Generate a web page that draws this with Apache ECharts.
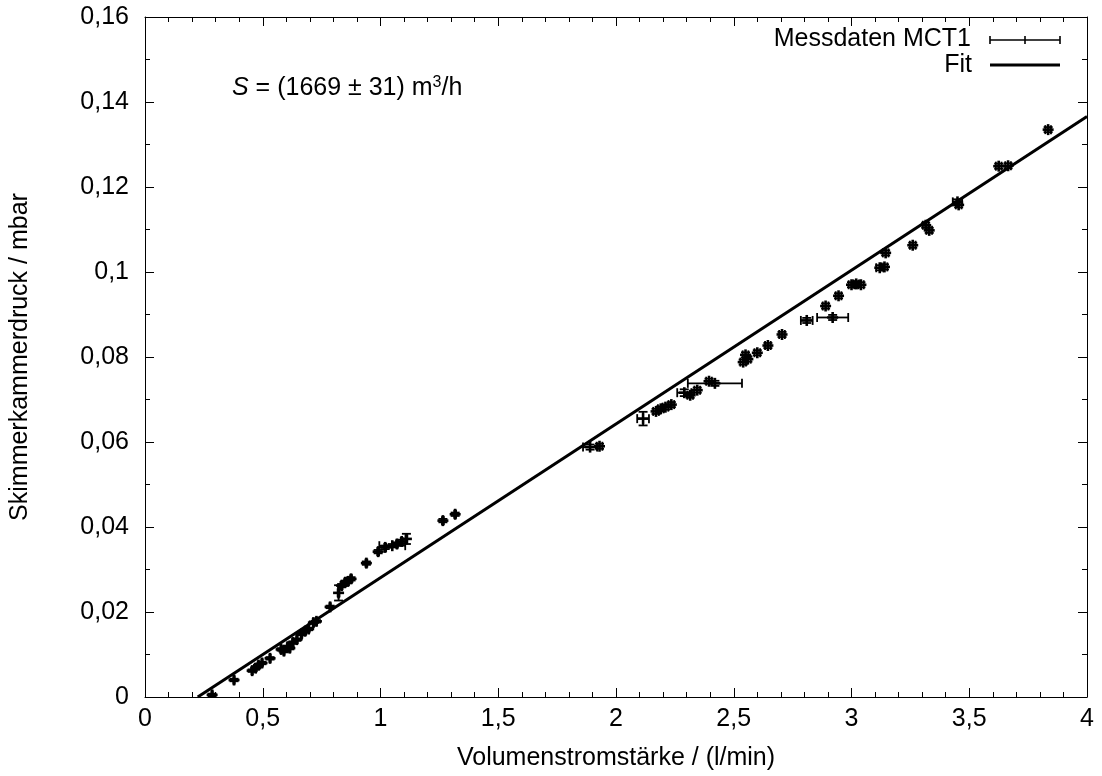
<!DOCTYPE html>
<html>
<head>
<meta charset="utf-8">
<script src="https://cdn.jsdelivr.net/npm/echarts@6/dist/echarts.min.js"></script>
<style>
html,body{margin:0;padding:0;background:#fff;}
#chart{width:1102px;height:776px;}
</style>
</head>
<body>
<div id="chart"></div>
<script>
// Measurement data: volume flow (l/min), pressure (mbar), x error, y error
const flowX = [0.285,0.378,0.455,0.47,0.482,0.497,0.531,0.578,0.59,0.605,0.615,0.628,0.645,0.665,0.68,0.695,0.715,0.728,0.786,0.822,0.835,0.85,0.862,0.875,0.94,0.99,1.02,1.05,1.07,1.09,1.11,1.265,1.317,
  1.89,1.93,2.115,2.17,2.19,2.21,2.235,2.29,2.315,2.345,2.395,2.42,2.54,2.55,2.56,2.60,2.645,2.705,2.81,2.92,2.89,2.945,3.0,3.02,3.04,3.12,3.14,3.145,3.26,3.315,3.33,3.45,3.455,3.625,3.665,3.835];
const pressY = [0.0005,0.0040,0.0062,0.0068,0.0075,0.0080,0.0091,0.0112,0.0108,0.0118,0.0115,0.0128,0.0135,0.0148,0.0155,0.0160,0.0175,0.0178,0.0212,0.0245,0.0262,0.0270,0.0272,0.0278,0.0315,0.0342,0.0352,0.0356,0.0360,0.0366,0.0372,0.0415,0.0430,
  0.0588,0.0590,0.0655,0.0672,0.0678,0.0682,0.0688,0.0716,0.0710,0.0722,0.0743,0.0738,0.0788,0.0805,0.0795,0.0810,0.0827,0.0853,0.0886,0.0893,0.0920,0.0944,0.0970,0.0972,0.0970,0.1010,0.1012,0.1045,0.1063,0.1110,0.1098,0.1165,0.1158,0.1249,0.1250,0.1335];
const errX = [0.003,0.003,0.003,0.003,0.003,0.003,0.003,0.003,0.003,0.003,0.003,0.003,0.003,0.003,0.003,0.003,0.003,0.003,0.003,0.004,0.004,0.004,0.004,0.004,0.004,0.004,0.004,0.055,0.004,0.004,0.004,0.004,0.004,
  0.03,0.012,0.025,0.012,0.012,0.012,0.012,0.03,0.012,0.012,0.012,0.115,0.012,0.012,0.012,0.012,0.012,0.012,0.025,0.066,0.012,0.012,0.012,0.012,0.012,0.015,0.012,0.012,0.012,0.012,0.012,0.02,0.012,0.012,0.012,0.012];
const errY = [0.0003,0.0003,0.0003,0.0003,0.0003,0.0003,0.0003,0.0003,0.0003,0.0003,0.0003,0.0003,0.0003,0.0003,0.0003,0.0003,0.0003,0.0003,0.0003,0.0018,0.0004,0.0004,0.0004,0.0004,0.0004,0.0004,0.0004,0.0004,0.0004,0.0004,0.0012,0.0004,0.0004,
  0.0006,0.0006,0.0016,0.0006,0.0006,0.0006,0.0006,0.0008,0.0006,0.0006,0.0006,0.0006,0.0006,0.0006,0.0006,0.0006,0.0006,0.0006,0.0006,0.0006,0.0006,0.0006,0.0006,0.0006,0.0006,0.0006,0.0006,0.0006,0.0006,0.0006,0.0006,0.0006,0.0006,0.0006,0.0006,0.0006];
// Fit line endpoints
const fitX = [0.224, 4.0];
const fitY = [0.0, 0.1366];

const measData = flowX.map((x,i)=>[x, pressY[i], errX[i], errY[i]]);
const fitData = fitX.map((x,i)=>[x, fitY[i]]);

const FONT = '"Liberation Sans", Arial, Helvetica, sans-serif';
const FS = 25;
const fmt = v => {
  const s = Number(v.toFixed(3)).toString();
  return s.replace('.', ',');
};

function renderErr(params, api){
  const x = api.value(0), y = api.value(1), ex = api.value(2), ey = api.value(3);
  const c = api.coord([x,y]);
  const l = api.coord([x-ex,y]), r = api.coord([x+ex,y]);
  const t = api.coord([x,y+ey]), b = api.coord([x,y-ey]);
  const cap = 4.5, pm = 5.5;
  const line = (x1,y1,x2,y2,w)=>({type:'line', shape:{x1,y1,x2,y2}, style:{stroke:'#000', lineWidth:w||1.8}});
  return {type:'group', children:[
    line(l[0],c[1],r[0],c[1]),
    line(l[0],c[1]-cap,l[0],c[1]+cap),
    line(r[0],c[1]-cap,r[0],c[1]+cap),
    line(c[0],t[1],c[0],b[1]),
    line(c[0]-cap,t[1],c[0]+cap,t[1]),
    line(c[0]-cap,b[1],c[0]+cap,b[1]),
    line(c[0]-pm,c[1],c[0]+pm,c[1],2.6),
    line(c[0],c[1]-pm,c[0],c[1]+pm,2.6)
  ]};
}

const axisCommon = {
  axisLine:{show:true, onZero:false, lineStyle:{color:'#000', width:1}},
  axisTick:{show:true, inside:true, length:9, lineStyle:{color:'#000'}},
  splitLine:{show:false}
};

const chart = echarts.init(document.getElementById('chart'), null, {renderer:'canvas'});
chart.setOption({
  backgroundColor:'#fff',
  animation:false,
  grid:{left:145, right:15, top:17, bottom:76, containLabel:false},
  xAxis:[
    Object.assign({type:'value', min:0, max:4, interval:0.5, position:'bottom',
      name:'Volumenstromstärke / (l/min)', nameLocation:'middle', nameGap:49,
      nameTextStyle:{fontFamily:FONT, fontSize:FS, color:'#000'},
      axisLabel:{formatter:fmt, fontFamily:FONT, fontSize:FS, color:'#000', margin:10}}, axisCommon,
      {minorTick:{show:true, splitNumber:5, length:5, lineStyle:{color:'#000'}}}),
    Object.assign({type:'value', min:0, max:4, interval:0.5, position:'top', axisLabel:{show:false}}, axisCommon,
      {minorTick:{show:true, splitNumber:5, length:5, lineStyle:{color:'#000'}}})
  ],
  yAxis:[
    Object.assign({type:'value', min:0, max:0.16, interval:0.02, position:'left',
      name:'Skimmerkammerdruck / mbar', nameLocation:'middle', nameGap:112,
      nameTextStyle:{fontFamily:FONT, fontSize:FS, color:'#000'},
      axisLabel:{formatter:fmt, fontFamily:FONT, fontSize:FS, color:'#000', margin:16}}, axisCommon,
      {minorTick:{show:true, splitNumber:2, length:5, lineStyle:{color:'#000'}}}),
    Object.assign({type:'value', min:0, max:0.16, interval:0.02, position:'right', axisLabel:{show:false}}, axisCommon,
      {minorTick:{show:true, splitNumber:2, length:5, lineStyle:{color:'#000'}}})
  ],
  series:[
    {type:'line', name:'Fit', data:fitData, xAxisIndex:0, yAxisIndex:0, showSymbol:false,
      lineStyle:{color:'#000', width:3}, clip:true, z:3},
    {type:'custom', name:'Messdaten MCT1', data:measData, xAxisIndex:0, yAxisIndex:0,
      renderItem:renderErr, encode:{x:0,y:1}, clip:true, z:4}
  ],
  graphic:[
    {type:'text', x:971, y:39, style:{text:'Messdaten MCT1', font:FS+'px '+FONT, fill:'#000', align:'right', verticalAlign:'middle'}},
    {type:'group', x:990, y:40, children:[
      {type:'line', shape:{x1:0,y1:0,x2:70,y2:0}, style:{stroke:'#000', lineWidth:1.6}},
      {type:'line', shape:{x1:0,y1:-4,x2:0,y2:4}, style:{stroke:'#000', lineWidth:1.6}},
      {type:'line', shape:{x1:70,y1:-4,x2:70,y2:4}, style:{stroke:'#000', lineWidth:1.6}},
      {type:'line', shape:{x1:35,y1:-4,x2:35,y2:4}, style:{stroke:'#000', lineWidth:1.6}}
    ]},
    {type:'text', x:972, y:65, style:{text:'Fit', font:FS+'px '+FONT, fill:'#000', align:'right', verticalAlign:'middle'}},
    {type:'line', shape:{x1:990,y1:65,x2:1060,y2:65}, style:{stroke:'#000', lineWidth:3}},
    {type:'text', x:232, y:88, style:{
      text:'{i|S} = (1669 ± 31) m{s|3}/h',
      font:FS+'px '+FONT, fill:'#000', verticalAlign:'middle',
      rich:{
        i:{fontFamily:FONT, fontSize:FS, fontStyle:'italic', fill:'#000'},
        s:{fontFamily:FONT, fontSize:16, fill:'#000', verticalAlign:'top', padding:[0,0,10,0]}
      }
    }}
  ]
});
</script>
</body>
</html>
